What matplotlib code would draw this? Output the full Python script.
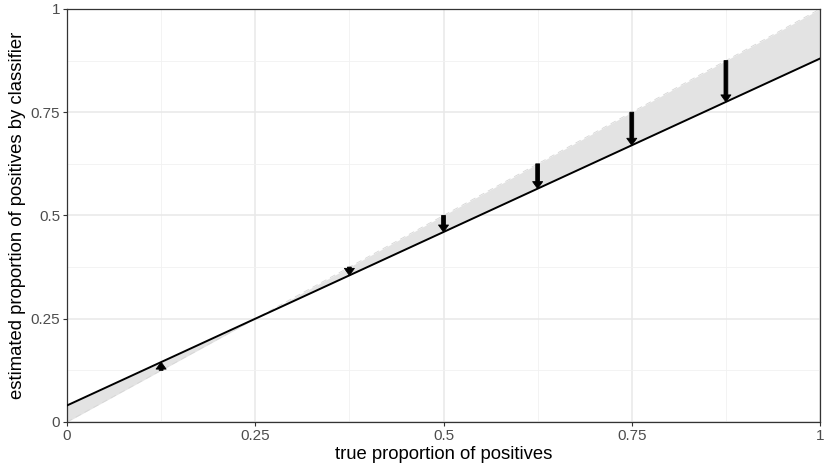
import matplotlib.pyplot as plt
import numpy as np

plt.rcParams['font.family'] = ['Liberation Sans', 'DejaVu Sans']

# data
true_prop = [0.125, 0.25, 0.375, 0.5, 0.625, 0.75, 0.875]
est_prop = [0.145, 0.25, 0.355, 0.46, 0.565, 0.67, 0.775]
fit_x = [0.0, 1.0]
fit_y = [0.04, 0.88]

ticks = [0, 0.25, 0.5, 0.75, 1]
tick_labels = ['0', '0.25', '0.5', '0.75', '1']
minor_ticks = [0.125, 0.375, 0.625, 0.875]

fig = plt.figure(figsize=(8.3, 4.75), dpi=100)
ax = fig.add_axes([0.0807, 0.1116, 0.9073, 0.8695])

# shaded band between identity and fitted line
ax.fill_between(fit_x, fit_x, fit_y, color='#e3e3e3', lw=0, zorder=1)
ax.plot(fit_x, fit_x, color='#d6d6d6', lw=0.6, ls=(0, (7, 5)), zorder=2)
ax.plot(fit_x, fit_y, color='black', lw=1.4, zorder=3)

# arrows from identity to estimate (vertical, so x-width / y-length in data units)
px_x = 1 / 753.0
px_y = 1 / 413.0
for x, y in zip(true_prop, est_prop):
    if abs(y - x) < 1e-6:
        continue
    ax.arrow(x, x, 0, y - x, width=3.8 * px_x, head_width=10 * px_x,
             head_length=7 * px_y, length_includes_head=True,
             color='black', lw=0.6, joinstyle='round', zorder=4)

ax.set_xlim(0, 1)
ax.set_ylim(0, 1)
ax.set_xticks(ticks)
ax.set_xticklabels(tick_labels)
ax.set_yticks(ticks)
ax.set_yticklabels(tick_labels)
ax.set_xticks(minor_ticks, minor=True)
ax.set_yticks(minor_ticks, minor=True)
ax.grid(which='major', color='#e8e8e8', lw=1.1, zorder=0)
ax.grid(which='minor', color='#f1f1f1', lw=0.6, zorder=0)
ax.set_axisbelow(True)
ax.tick_params(which='major', length=3, width=0.8, color='#333333',
               labelsize=11, labelcolor='#4d4d4d', pad=2)
ax.tick_params(which='minor', length=0)
for s in ax.spines.values():
    s.set_color('#333333')
    s.set_linewidth(0.9)

ax.set_xlabel('true proportion of positives', fontsize=13.3, labelpad=2)
ax.set_ylabel('estimated proportion of positives by classifier', fontsize=13.3, labelpad=3)

fig.savefig('out.png', dpi=100)
